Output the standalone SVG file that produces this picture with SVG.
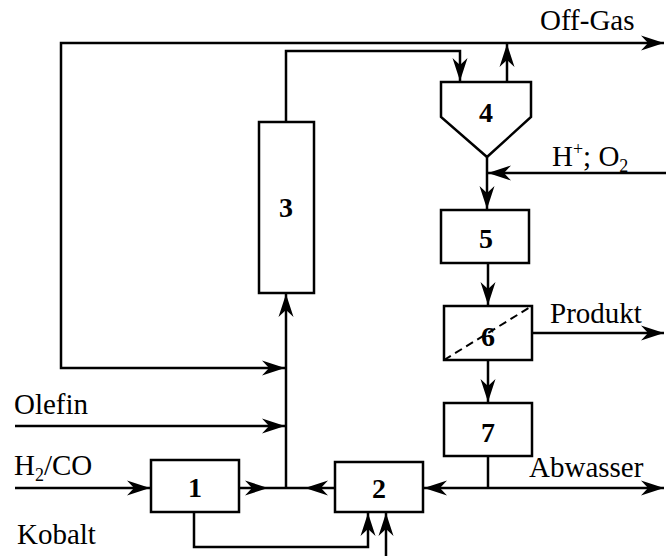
<svg xmlns="http://www.w3.org/2000/svg" width="666" height="556" viewBox="0 0 666 556">
<style>
.ln{fill:none;stroke:#000;stroke-width:2.5}
.bx{fill:#fff;stroke:#000;stroke-width:2.5}
.num{font-family:"Liberation Serif","Times New Roman",serif;font-weight:bold;font-size:28px;text-anchor:middle;fill:#000}
.lbl{font-family:"Liberation Serif","Times New Roman",serif;font-size:29px;fill:#000}
.sm{font-size:18px}
</style>
<defs>
<marker id="ah" markerUnits="userSpaceOnUse" markerWidth="26" markerHeight="18" viewBox="0 0 26 16" refX="23" refY="8" orient="auto" overflow="visible">
<path d="M23,8 L0,0.5 L7,8 L0,15.5 Z" fill="#000"/>
</marker>
</defs>
<rect width="666" height="556" fill="#fff"/>
<g id="connectors">
<path class="ln" d="M507,43 H664" marker-end="url(#ah)"/>
<path class="ln" d="M507,43 H61 V368 H285" marker-end="url(#ah)"/>
<path class="ln" d="M507,82 V44" marker-end="url(#ah)"/>
<path class="ln" d="M286,122 V51 H460 V81" marker-end="url(#ah)"/>
<path class="ln" d="M487,157 V209" marker-end="url(#ah)"/>
<path class="ln" d="M666,173 H488" marker-end="url(#ah)"/>
<path class="ln" d="M488,263 V305" marker-end="url(#ah)"/>
<path class="ln" d="M532,333 H664" marker-end="url(#ah)"/>
<path class="ln" d="M488,360 V402" marker-end="url(#ah)"/>
<path class="ln" d="M488,456 V488"/>
<path class="ln" d="M488,488 H424" marker-end="url(#ah)"/>
<path class="ln" d="M488,488 H664" marker-end="url(#ah)"/>
<path class="ln" d="M15,426 H285" marker-end="url(#ah)"/>
<path class="ln" d="M15,488 H150" marker-end="url(#ah)"/>
<path class="ln" d="M239,488 H268" marker-end="url(#ah)"/>
<path class="ln" d="M268,488 H305"/>
<path class="ln" d="M335,488 H305" marker-end="url(#ah)"/>
<path class="ln" d="M286,488 V294" marker-end="url(#ah)"/>
<path class="ln" d="M194,512 V547 H368 V513" marker-end="url(#ah)"/>
<path class="ln" d="M386,556 V513" marker-end="url(#ah)"/>
</g>
<g id="node1">
<rect class="bx" x="151" y="460" width="88" height="52"/>
<text class="num" x="195" y="497">1</text>
</g>
<g id="node2">
<rect class="bx" x="335" y="462" width="88" height="50"/>
<text class="num" x="379" y="498">2</text>
</g>
<g id="node3">
<rect class="bx" x="259" y="122" width="55" height="171"/>
<text class="num" x="286" y="217">3</text>
</g>
<g id="node4">
<polygon class="bx" points="441,82 531,82 531,117 487,157 441,117"/>
<text class="num" x="486" y="122">4</text>
</g>
<g id="node5">
<rect class="bx" x="441" y="210" width="88" height="53"/>
<text class="num" x="486" y="248">5</text>
</g>
<g id="node6">
<rect class="bx" x="444" y="306" width="88" height="54"/>
<line x1="444" y1="360" x2="532" y2="306" stroke="#000" stroke-width="2" stroke-dasharray="8,5"/>
<text class="num" x="488" y="346">6</text>
</g>
<g id="node7">
<rect class="bx" x="444" y="403" width="88" height="53"/>
<text class="num" x="488" y="442">7</text>
</g>
<g id="labels">
<text class="lbl" x="540" y="30">Off-Gas</text>
<text class="lbl" x="552" y="166">H<tspan class="sm" dy="-11">+</tspan><tspan dy="11">; O</tspan><tspan class="sm" dy="6">2</tspan></text>
<text class="lbl" x="550" y="323">Produkt</text>
<text class="lbl" x="529" y="477">Abwasser</text>
<text class="lbl" x="14" y="414">Olefin</text>
<text class="lbl" x="14" y="475">H<tspan class="sm" dy="6">2</tspan><tspan dy="-6">/CO</tspan></text>
<text class="lbl" x="17" y="544">Kobalt</text>
</g>
</svg>
